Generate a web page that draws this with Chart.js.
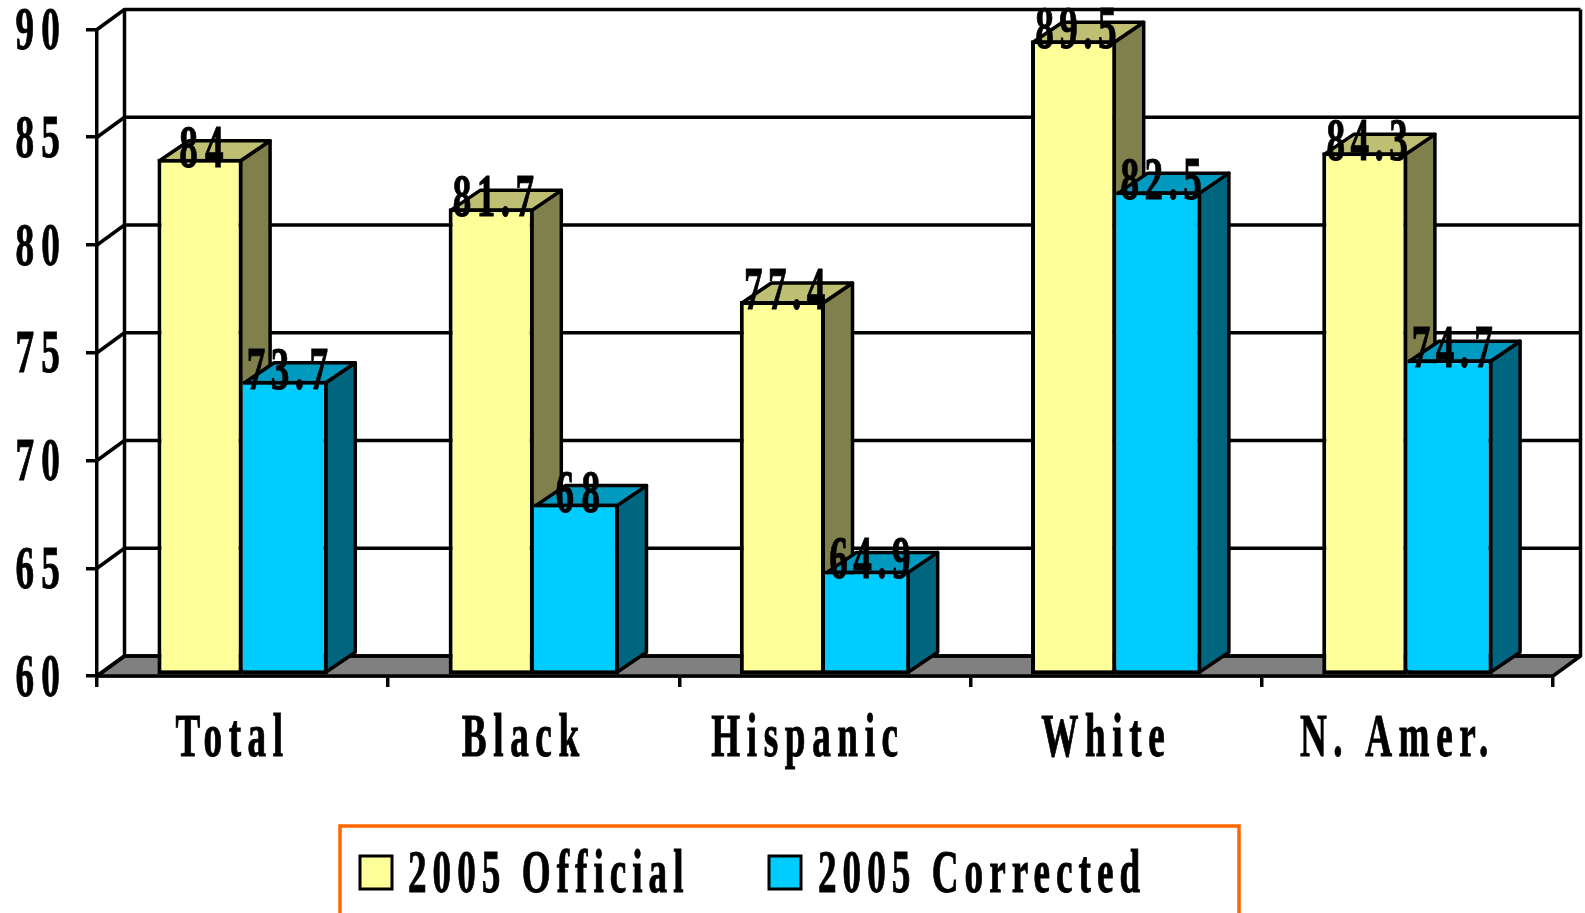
<!DOCTYPE html>
<html>
<head>
<meta charset="utf-8">
<title>2005 graduation rates</title>
<script src="https://cdn.jsdelivr.net/npm/chart.js@4/dist/chart.umd.js"></script>
<style>
  html, body { margin: 0; padding: 0; background: #fff; overflow: hidden; }
  canvas { display: block; }
</style>
</head>
<body>
<canvas id="bar-chart" width="1585" height="913"></canvas>
<script>
const categories = ['Total', 'Black', 'Hispanic', 'White', 'N. Amer.'];
const official = [84, 81.7, 77.4, 89.5, 84.3];
const corrected = [73.7, 68, 64.9, 82.5, 74.7];
const seriesNames = ['2005 Official', '2005 Corrected'];

const axisMin = 60;
const axisMax = 90;
const axisStep = 5;

// offset of the back plane from the front plane
const depthX = 27.5;
const depthY = -20;

const wallLine = 3.5;
const barLine = 4;

const squeeze = 0.6;
const fontFamily = '"Liberation Serif", serif';
const textFont = '700 62px ' + fontFamily;

const shades = [
	{ front: '#ffff99', top: '#bfbf73', side: '#80804d' },
	{ front: '#00ccff', top: '#0099bf', side: '#006680' },
];

// tracking depends on the kind of text
function trackingFor(text) {
	if (text.includes('.') && /^[\d.]+$/.test(text)) return '9px';
	if (/^\d+$/.test(text)) return '12px';
	return categories.includes(text) ? '11px' : '10px';
}

// Hispanic sits a little left of its band
const labelNudge = { Hispanic: -7 };

// all text in this chart is a bold serif narrowed horizontally and spaced out
const narrowText = {
	id: 'narrowText',
	beforeDraw(chart) {
		const ctx = chart.ctx;
		if (ctx.plainFillText) return;
		ctx.plainFillText = ctx.fillText;
		ctx.fillText = function (text, x, y) {
			ctx.save();
			ctx.translate(x + (labelNudge[text] || 0), y);
			ctx.scale(squeeze, 1);
			ctx.letterSpacing = trackingFor(text);
			ctx.strokeStyle = ctx.fillStyle;
			ctx.lineWidth = 1;
			ctx.strokeText(text, 0, 0);
			ctx.plainFillText(text, 0, 0);
			ctx.restore();
		};
	},
};

function polygon(ctx, points, fill) {
	ctx.beginPath();
	points.forEach(([x, y], i) => (i ? ctx.lineTo(x, y) : ctx.moveTo(x, y)));
	ctx.closePath();
	if (fill) {
		ctx.fillStyle = fill;
		ctx.fill();
	}
	ctx.stroke();
}

// floor, back wall and left wall behind the bars
const walls = {
	id: 'walls',
	beforeDatasetsDraw(chart) {
		const { ctx, chartArea: area, scales } = chart;
		const y = scales.y;
		ctx.save();
		ctx.strokeStyle = '#000';
		ctx.lineWidth = wallLine;
		ctx.lineJoin = 'round';

		const base = y.getPixelForValue(axisMin);
		polygon(ctx, [
			[area.left, base],
			[area.left + depthX, base + depthY],
			[area.right + depthX, base + depthY],
			[area.right, base],
		], '#808080');

		y.ticks.forEach((tick) => {
			const py = y.getPixelForValue(tick.value);
			ctx.beginPath();
			ctx.moveTo(area.left, py);
			ctx.lineTo(area.left + depthX, py + depthY);
			ctx.lineTo(area.right + depthX, py + depthY);
			ctx.stroke();
		});

		ctx.beginPath();
		ctx.moveTo(area.left + depthX, y.getPixelForValue(axisMax) + depthY);
		ctx.lineTo(area.left + depthX, base + depthY);
		ctx.moveTo(area.right + depthX, y.getPixelForValue(axisMax) + depthY);
		ctx.lineTo(area.right + depthX, base + depthY);
		ctx.stroke();
		ctx.restore();
	},
};

// top and right faces of each bar, taken from the bar elements themselves
const barFaces = {
	id: 'barFaces',
	beforeDatasetsDraw(chart) {
		const { ctx } = chart;
		const inset = barLine / 2;
		const faceX = depthX + inset;
		ctx.save();
		ctx.strokeStyle = '#000';
		ctx.lineWidth = barLine - 0.5;
		ctx.lineJoin = 'round';
		chart.data.datasets.forEach((ds, d) => {
			chart.getDatasetMeta(d).data.forEach((bar) => {
				const half = bar.width / 2;
				const l = bar.x - half + inset;
				const r = bar.x + half - inset;
				const t = bar.y + inset;
				const b = bar.base - inset;
				polygon(ctx, [[r, t], [r + faceX, t + depthY], [r + faceX, b + depthY], [r, b]], shades[d].side);
				polygon(ctx, [[l, t], [l + faceX, t + depthY], [r + faceX, t + depthY], [r, t]], shades[d].top);
			});
		});
		ctx.restore();
	},
};

const valueLabels = {
	id: 'valueLabels',
	afterDatasetsDraw(chart) {
		const { ctx } = chart;
		ctx.save();
		ctx.font = textFont;
		ctx.fillStyle = '#000';
		ctx.textAlign = 'center';
		ctx.textBaseline = 'middle';
		chart.data.datasets.forEach((ds, d) => {
			chart.getDatasetMeta(d).data.forEach((bar, i) => {
				ctx.fillText(String(ds.data[i]), bar.x + 5, bar.y - 8);
			});
		});
		ctx.restore();
	},
};

const legendBox = {
	id: 'legendBox',
	afterDraw(chart) {
		const { ctx } = chart;
		ctx.save();
		ctx.strokeStyle = '#ff6600';
		ctx.lineWidth = 3.5;
		ctx.strokeRect(340, 826, 899, 120);

		const swatchX = [360, 769];
		const textX = [408, 818];
		ctx.font = textFont;
		ctx.textAlign = 'left';
		ctx.textBaseline = 'middle';
		ctx.lineWidth = 3;
		chart.data.datasets.forEach((ds, d) => {
			ctx.fillStyle = shades[d].front;
			ctx.strokeStyle = '#000';
			ctx.fillRect(swatchX[d], 856, 32, 33);
			ctx.strokeRect(swatchX[d], 856, 32, 33);
			ctx.fillStyle = '#000';
			ctx.fillText(ds.label, textX[d], 876);
		});
		ctx.restore();
	},
};

new Chart(document.getElementById('bar-chart'), {
	type: 'bar',
	data: {
		labels: categories,
		datasets: [
			{
				label: seriesNames[0],
				data: official,
				base: axisMin,
				backgroundColor: shades[0].front,
				borderColor: '#000',
				borderWidth: barLine,
				borderSkipped: false,
				barPercentage: 1,
				categoryPercentage: 0.585,
			},
			{
				label: seriesNames[1],
				data: corrected,
				base: axisMin,
				backgroundColor: shades[1].front,
				borderColor: '#000',
				borderWidth: { top: barLine, right: barLine, bottom: barLine, left: 0 },
				borderSkipped: false,
				barPercentage: 1,
				categoryPercentage: 0.585,
			},
		],
	},
	options: {
		responsive: false,
		animation: false,
		devicePixelRatio: 1,
		layout: { padding: { top: 29.5, right: 32, left: 0, bottom: 0 } },
		plugins: {
			legend: { display: false },
			tooltip: { enabled: false },
		},
		scales: {
			x: {
				afterFit: (scale) => {
					scale.height = 237;
					scale.paddingLeft = 0;
					scale.paddingRight = 0;
				},
				border: { color: '#000', width: wallLine },
				grid: { color: '#000', lineWidth: wallLine, tickLength: 11, drawOnChartArea: false },
				ticks: {
					color: '#000',
					font: { family: fontFamily, size: 62, weight: '700' },
					autoSkip: false,
					maxRotation: 0,
					padding: 15.5,
					labelOffset: -10,
				},
			},
			y: {
				min: axisMin,
				max: axisMax,
				afterFit: (scale) => {
					scale.width = 97;
					scale.paddingTop = 0;
					scale.paddingBottom = 0;
				},
				border: { color: '#000', width: wallLine },
				grid: { color: '#000', lineWidth: wallLine, tickLength: 11, drawOnChartArea: false },
				ticks: {
					stepSize: axisStep,
					color: '#000',
					font: { family: fontFamily, size: 62, weight: '700' },
					padding: 19,
					labelOffset: 3.5,
				},
			},
		},
	},
	plugins: [narrowText, walls, barFaces, valueLabels, legendBox],
});
</script>
</body>
</html>
